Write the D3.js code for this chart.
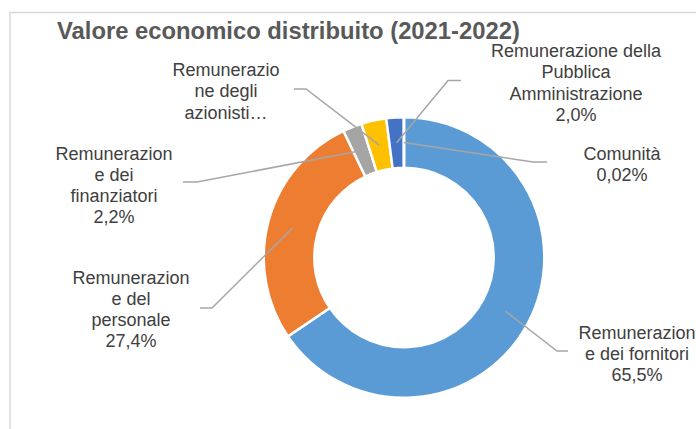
<!DOCTYPE html>
<html>
<head>
<meta charset="utf-8">
<script src="https://cdn.jsdelivr.net/npm/d3@7"></script>
<style>
  html, body { margin: 0; padding: 0; background: #ffffff; }
  svg { display: block; }
</style>
</head>
<body>
<svg id="chart" width="696" height="429"></svg>
<script>
// ---- Data ----
const title = "Valore economico distribuito (2021-2022)";
const categories = [
  "Remunerazione dei fornitori",
  "Remunerazione del personale",
  "Remunerazione dei finanziatori",
  "Remunerazione degli azionisti",
  "Remunerazione della Pubblica Amministrazione",
  "Comunità"
];
const values = [65.5, 27.4, 2.2, 2.88, 2.0, 0.02];
// label text as wrapped in the picture (name part)
const labelNameLines = [
  ["Remunerazion", "e dei fornitori"],
  ["Remunerazion", "e del", "personale"],
  ["Remunerazion", "e dei", "finanziatori"],
  ["Remunerazio", "ne degli", "azionisti…"],
  ["Remunerazione della", "Pubblica", "Amministrazione"],
  ["Comunità"]
];
const showValue = [true, true, true, false, true, true];
const colors = ["#5B9BD5", "#ED7D31", "#A5A5A5", "#FFC000", "#4472C4", "#70AD47"];

// ---- Layout (positions only) ----
const W = 696, H = 429;
const cx = 404, cy = 257.5;
const rOuter = 140.3, rInner = 89.7;
const lineH = 21.3;
// label anchor (centre x, first baseline y) and leader elbow/end points
const labelLayout = [
  { x: 637, y: 338.5, elbow: [557, 351], end: [568, 351] },
  { x: 131, y: 283.5, elbow: [212, 308], end: [200, 308] },
  { x: 114, y: 159.5, elbow: [197, 182], end: [183, 182] },
  { x: 226, y: 76,    elbow: [306, 89],  end: [294, 89] },
  { x: 576, y: 57,    elbow: [448, 80.5], end: [461, 80.5] },
  { x: 622, y: 159.5, elbow: [533, 162], end: [547, 162] }
];

const itLocale = d3.formatLocale({ decimal: ",", thousands: ".", grouping: [3], currency: ["", "€"] });
const total = d3.sum(values);
function pctText(v) {
  const p = v / total * 100;
  return (p < 0.1 ? itLocale.format(".2f")(p) : itLocale.format(".1f")(p)) + "%";
}

const svg = d3.select("#chart");

// chart area border
svg.append("rect")
  .attr("x", 10).attr("y", 12.5)
  .attr("width", 800).attr("height", 600)
  .attr("fill", "#ffffff")
  .attr("stroke", "#D9D9D9")
  .attr("stroke-width", 1.5);

// title
svg.append("text")
  .attr("x", 57).attr("y", 39)
  .attr("font-family", "'Liberation Sans', Arial, sans-serif")
  .attr("font-size", 23.8)
  .attr("font-weight", "bold")
  .attr("fill", "#595959")
  .text(title);

// donut
const pie = d3.pie().sort(null).value(d => d.value).startAngle(0).endAngle(2 * Math.PI);
const data = categories.map((c, i) => ({ name: c, value: values[i], i }));
const arcs = pie(data);
const arc = d3.arc().innerRadius(rInner).outerRadius(rOuter);
const midArc = d3.arc().innerRadius((rInner + rOuter) / 2).outerRadius((rInner + rOuter) / 2);

const g = svg.append("g").attr("transform", `translate(${cx},${cy})`);
g.selectAll("path.slice")
  .data(arcs)
  .join("path")
  .attr("class", "slice")
  .attr("d", arc)
  .attr("fill", d => colors[d.data.i])
  .attr("stroke", "#ffffff")
  .attr("stroke-width", 2.5)
  .attr("stroke-linejoin", "miter");

// leader lines
arcs.forEach(a => {
  const L = labelLayout[a.data.i];
  const c = midArc.centroid(a);
  const p0 = [cx + c[0], cy + c[1]];
  svg.append("polyline")
    .attr("points", [L.end, L.elbow, p0].map(p => p.join(",")).join(" "))
    .attr("fill", "none")
    .attr("stroke", "#A6A6A6")
    .attr("stroke-width", 1.5);
});

// labels
arcs.forEach(a => {
  const i = a.data.i;
  const L = labelLayout[i];
  const lines = labelNameLines[i].slice();
  if (showValue[i]) lines.push(pctText(values[i]));
  const t = svg.append("text")
    .attr("font-family", "'Liberation Sans', Arial, sans-serif")
    .attr("font-size", 18)
    .attr("fill", "#404040")
    .attr("text-anchor", "middle");
  lines.forEach((ln, k) => {
    t.append("tspan").attr("x", L.x).attr("y", L.y + k * lineH).text(ln);
  });
});
</script>
</body>
</html>
